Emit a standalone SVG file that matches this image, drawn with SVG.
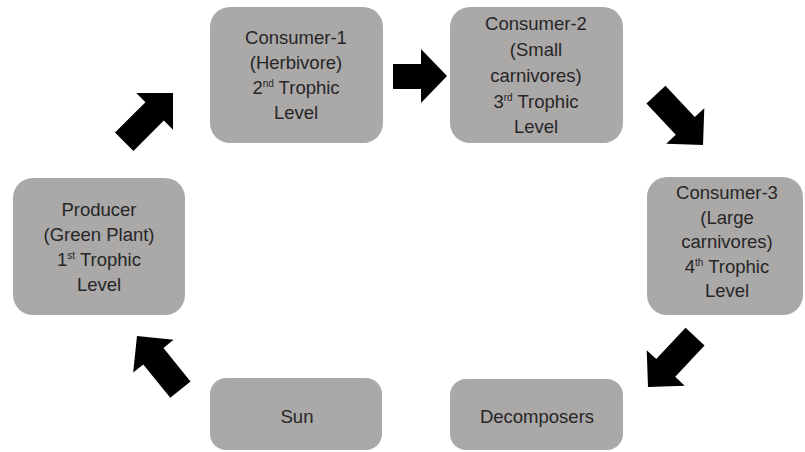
<svg xmlns="http://www.w3.org/2000/svg" width="805" height="452" viewBox="0 0 805 452">
<defs>
<style>
.box{fill:#aba8a8;}
.t{font-family:"Liberation Sans",Arial,sans-serif;font-size:18.5px;fill:#262626;text-anchor:middle;}
.sup{font-size:10px;}
.arr{fill:#000;}
</style>
<polygon id="ad" points="0,0 -26,-26 -26,-13 -69,-13 -69,13 -26,13 -26,26"/>
</defs>
<rect width="805" height="452" fill="#fff"/>
<g id="connectors" class="arr">
<use href="#ad" transform="translate(173,93) rotate(-45)"/>
<polygon points="447,76 421,49 421,64 393,64 393,89 421,89 421,103"/>
<use href="#ad" transform="translate(703,145) rotate(47)"/>
<use href="#ad" transform="translate(648,387) rotate(133)"/>
<use href="#ad" transform="translate(137,336) rotate(-129)"/>
</g>
<g id="consumer1">
<rect class="box" x="210" y="7" width="173" height="136" rx="20"/>
<text class="t" x="296" y="44">Consumer-1</text>
<text class="t" x="296" y="69">(Herbivore)</text>
<text class="t" x="296" y="94">2<tspan class="sup" dy="-7">nd</tspan><tspan dy="7"> Trophic</tspan></text>
<text class="t" x="296" y="119">Level</text>
</g>
<g id="consumer2">
<rect class="box" x="450" y="7" width="173" height="136" rx="20"/>
<text class="t" x="536" y="30">Consumer-2</text>
<text class="t" x="536" y="56">(Small</text>
<text class="t" x="536" y="82">carnivores)</text>
<text class="t" x="536" y="108">3<tspan class="sup" dy="-7">rd</tspan><tspan dy="7"> Trophic</tspan></text>
<text class="t" x="536" y="133">Level</text>
</g>
<g id="producer">
<rect class="box" x="13" y="178" width="172" height="137" rx="20"/>
<text class="t" x="99" y="216">Producer</text>
<text class="t" x="99" y="241">(Green Plant)</text>
<text class="t" x="99" y="266">1<tspan class="sup" dy="-7">st</tspan><tspan dy="7"> Trophic</tspan></text>
<text class="t" x="99" y="291">Level</text>
</g>
<g id="consumer3">
<rect class="box" x="647" y="177" width="156" height="138" rx="20"/>
<text class="t" x="727" y="199">Consumer-3</text>
<text class="t" x="727" y="224">(Large</text>
<text class="t" x="727" y="248">carnivores)</text>
<text class="t" x="727" y="273">4<tspan class="sup" dy="-7">th</tspan><tspan dy="7"> Trophic</tspan></text>
<text class="t" x="727" y="297">Level</text>
</g>
<g id="sun">
<rect class="box" x="210" y="378" width="172" height="72" rx="16"/>
<text class="t" x="297" y="423">Sun</text>
</g>
<g id="decomposers">
<rect class="box" x="450" y="379" width="173" height="71" rx="16"/>
<text class="t" x="537" y="423">Decomposers</text>
</g>
</svg>
